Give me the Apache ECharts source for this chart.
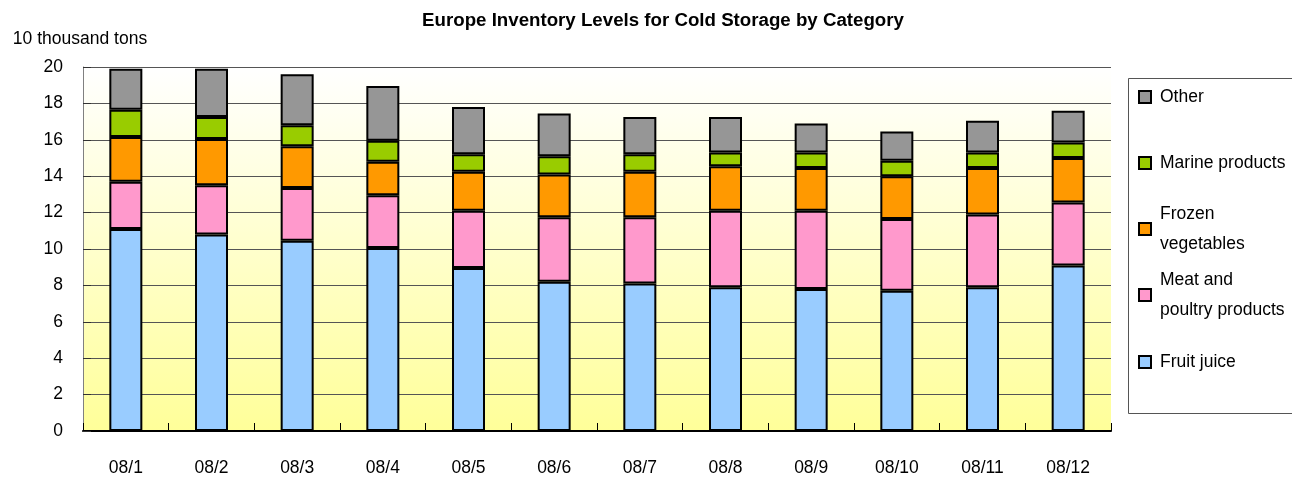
<!DOCTYPE html>
<html>
<head>
<meta charset="utf-8">
<script src="https://cdn.jsdelivr.net/npm/echarts@6/dist/echarts.min.js"></script>
<style>
  html, body { margin: 0; padding: 0; background: #ffffff; }
  #chart { width: 1292px; height: 477px; }
</style>
</head>
<body>
<div id="chart"></div>
<script>
// Monthly cold-storage stock in Europe, 2008 (unit: 10 thousand tons)
const months = ['08/1', '08/2', '08/3', '08/4', '08/5', '08/6', '08/7', '08/8', '08/9', '08/10', '08/11', '08/12'];
const fruitJuice = [11.1, 10.8, 10.45, 10.05, 8.95, 8.2, 8.1, 7.9, 7.8, 7.7, 7.9, 9.1];
const meatPoultry = [2.6, 2.7, 2.9, 2.9, 3.15, 3.55, 3.65, 4.2, 4.3, 3.95, 4.0, 3.45];
const frozenVeg = [2.45, 2.55, 2.3, 1.85, 2.15, 2.35, 2.5, 2.45, 2.35, 2.35, 2.55, 2.45];
const marine = [1.5, 1.2, 1.15, 1.15, 0.95, 1.0, 0.95, 0.75, 0.85, 0.85, 0.85, 0.85];
const other = [2.25, 2.65, 2.8, 3.0, 2.6, 2.35, 2.05, 1.95, 1.6, 1.6, 1.75, 1.75];
const yTicks = { min: 0, max: 20, interval: 2 };

const FONT = "'Liberation Sans', Arial, sans-serif";
const FS = 17.5;

const seriesDefs = [
  { name: 'Fruit juice', data: fruitJuice, color: '#99ccff', label: 'Fruit juice', iconY: 362, lines: 1 },
  { name: 'Meat and poultry products', data: meatPoultry, color: '#ff99cc', label: 'Meat and\npoultry products', iconY: 295, lines: 2 },
  { name: 'Frozen vegetables', data: frozenVeg, color: '#ff9900', label: 'Frozen\nvegetables', iconY: 229, lines: 2 },
  { name: 'Marine products', data: marine, color: '#99cc00', label: 'Marine products', iconY: 163, lines: 1 },
  { name: 'Other', data: other, color: '#969696', label: 'Other', iconY: 97, lines: 1 }
];

const LINE_H = 30;

const series = seriesDefs.map(d => ({
  name: d.name,
  type: 'bar',
  stack: 'total',
  barWidth: 33,
  data: d.data,
  itemStyle: { color: d.color, borderColor: '#000000', borderWidth: 2 },
  emphasis: { disabled: true }
}));

// One legend per entry so the multi-line names keep their own spacing
const legends = seriesDefs.map(d => {
  const multi = d.lines > 1;
  const textH = multi ? LINE_H * (d.lines + 1) : LINE_H;
  return {
    data: [d.name],
    orient: 'vertical',
    left: 1138,
    top: d.iconY - textH / 2,
    padding: 0,
    icon: 'rect',
    itemWidth: 12,
    itemHeight: 12,
    selectedMode: false,
    formatter: () => d.label,
    textStyle: {
      fontFamily: FONT,
      fontSize: FS,
      color: '#000000',
      lineHeight: LINE_H,
      padding: multi ? [LINE_H, 0, 0, 4] : [0, 0, 0, 4]
    }
  };
});

const chart = echarts.init(document.getElementById('chart'), null, { renderer: 'canvas' });
chart.setOption({
  animation: false,
  backgroundColor: '#ffffff',
  title: {
    text: 'Europe Inventory Levels for Cold Storage by Category',
    left: 658,
    top: 6,
    textAlign: 'center',
    textStyle: { fontFamily: FONT, fontWeight: 'bold', fontSize: 18.7, color: '#000000' }
  },
  graphic: [{
    type: 'rect',
    left: 1128,
    top: 78,
    z: -1,
    shape: { width: 180, height: 335 },
    style: { fill: '#ffffff', stroke: '#555555', lineWidth: 1 }
  }],
  legend: legends,
  grid: {
    left: 83,
    right: 181,
    top: 67,
    bottom: 46,
    show: true,
    borderWidth: 0,
    backgroundColor: {
      type: 'linear', x: 0, y: 0, x2: 0, y2: 1,
      colorStops: [{ offset: 0, color: '#ffffff' }, { offset: 1, color: '#ffff99' }]
    }
  },
  xAxis: {
    type: 'category',
    data: months,
    axisLine: { show: true, lineStyle: { color: '#000000', width: 2 } },
    axisTick: { show: true, inside: true, length: 8, lineStyle: { color: '#000000', width: 1 } },
    axisLabel: { fontFamily: FONT, fontSize: FS, color: '#000000', margin: 28 },
    splitLine: { show: false }
  },
  yAxis: {
    type: 'value',
    min: yTicks.min,
    max: yTicks.max,
    interval: yTicks.interval,
    name: '10 thousand tons',
    nameLocation: 'end',
    nameGap: 19,
    nameTextStyle: { fontFamily: FONT, fontSize: FS, color: '#000000', align: 'center', padding: [0, 6, 0, 0] },
    axisLine: { show: true, lineStyle: { color: '#808080', width: 1 } },
    axisTick: { show: true, inside: true, length: 8, lineStyle: { color: '#333333' } },
    axisLabel: { fontFamily: FONT, fontSize: FS, color: '#000000', margin: 20 },
    splitLine: { show: true, lineStyle: { color: '#555555', width: 1 } }
  },
  series: series
});
</script>
</body>
</html>
